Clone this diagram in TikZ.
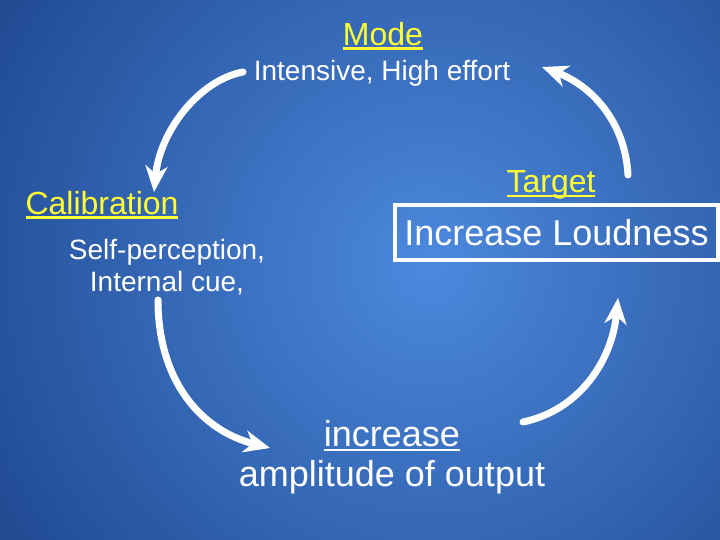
\documentclass[tikz,border=0pt]{standalone}
\usepackage{fontspec}
\setmainfont{Liberation Sans}
\usetikzlibrary{arrows.meta}
\definecolor{bgedge}{HTML}{1D468D}
\definecolor{bgmid}{HTML}{4C89DD}
\definecolor{headyellow}{HTML}{FFFF33}
\newcommand{\thickul}[1]{\setbox0\hbox{#1}\rlap{\rule[-4.5pt]{\wd0}{2.5pt}}\box0}
\tikzstyle{heading}=[text=headyellow, font=\fontsize{32}{36}\selectfont, inner sep=0pt]
\tikzstyle{plaintext}=[text=white, font=\fontsize{28}{32}\selectfont, inner sep=0pt, align=center]
\tikzstyle{bigtext}=[text=white, font=\fontsize{36}{42}\selectfont, inner sep=0pt, align=center]
\tikzstyle{loudbox}=[bigtext, draw=white, line width=4pt, minimum width=323pt, minimum height=55pt]
\tikzstyle{cyclearrow}=[draw=white, line width=7pt, line cap=round, -{Stealth[length=26pt,width=22pt,inset=8pt]}]

\begin{document}
\begin{tikzpicture}[x=1pt,y=-1pt]

  % background
  \useasboundingbox (0,0) rectangle (720,540);
  \begin{scope}
    \clip (0,0) rectangle (720,540);
    \shade[inner color=bgmid, outer color=bgedge] (430,265) circle (540);
  \end{scope}

  % texts
  \node[heading] (mode) at (383,36) {\thickul{Mode}};
  \node[plaintext] (effort) at (382,73) {Intensive, High effort};
  \node[heading] (calib) at (102,205) {\thickul{Calibration}};
  \node[plaintext] (cue) at (167,267) {Self-perception,\\Internal cue,};
  \node[heading] (target) at (551,185) {\thickul{Target}};
  \node[loudbox] (loud) at (556.5,232.5) {Increase Loudness};
  \node[bigtext] (incr) at (392,436) {\thickul{increase}};
  \node[bigtext] (ampl) at (392,477) {amplitude of output};

  % arrow ends
  \coordinate (m-out) at (243,72);
  \coordinate (c-in) at (154,192);
  \coordinate (c-out) at (158,300);
  \coordinate (a-in) at (270,448);
  \coordinate (a-out) at (523,422);
  \coordinate (t-in) at (618,298);
  \coordinate (t-out) at (628,175);
  \coordinate (m-in) at (542,67);

  \draw[cyclearrow] (m-out) .. controls (200,80) and (160,130) .. (c-in);
  \draw[cyclearrow] (c-out) .. controls (158,380) and (200,430) .. (a-in);
  \draw[cyclearrow] (a-out) .. controls (580,410) and (612,360) .. (t-in);
  \draw[cyclearrow] (t-out) .. controls (625,120) and (590,85) .. (m-in);

\end{tikzpicture}
\end{document}
